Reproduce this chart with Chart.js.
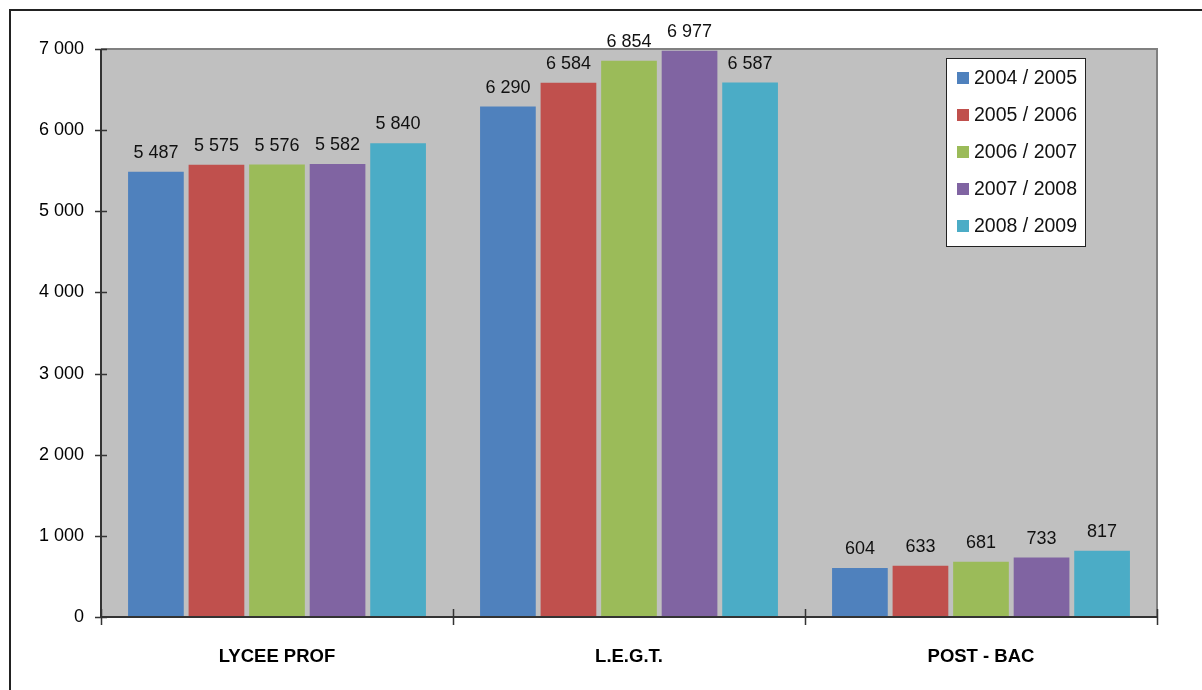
<!DOCTYPE html>
<html>
<head>
<meta charset="utf-8">
<script src="https://cdn.jsdelivr.net/npm/chart.js@4/dist/chart.umd.min.js"></script>
<style>
  html, body { margin: 0; padding: 0; background: #fff; overflow: hidden; }
  #wrap { position: relative; width: 1202px; height: 690px; }
  #frame { position: absolute; left: 9px; top: 9px; width: 1300px; height: 800px;
           border: 2px solid #222; box-sizing: border-box; pointer-events: none; }
</style>
</head>
<body>
<div id="wrap">
  <canvas id="chart" width="1202" height="690"></canvas>
  <div id="frame"></div>
</div>
<script>
// data
var categories = ['LYCEE PROF', 'L.E.G.T.', 'POST - BAC'];
var seriesNames = ['2004 / 2005', '2005 / 2006', '2006 / 2007', '2007 / 2008', '2008 / 2009'];
var y0405 = [5487, 6290, 604];
var y0506 = [5575, 6584, 633];
var y0607 = [5576, 6854, 681];
var y0708 = [5582, 6977, 733];
var y0809 = [5840, 6587, 817];
var yTicks = [0, 1000, 2000, 3000, 4000, 5000, 6000, 7000];

var colors = ['#4F81BD', '#C0504D', '#9BBB59', '#8064A2', '#4BACC6'];
var seriesValues = [y0405, y0506, y0607, y0708, y0809];

function fmt(v) {
  return String(v).replace(/\B(?=(\d{3})+(?!\d))/g, ' ');
}

// ==========================================================================
// plot background, frame, crossing ticks, value labels, legend
// ==========================================================================
var excelPlugin = {
  id: 'excel',
  beforeDatasetsDraw: function(chart) {
    var ctx = chart.ctx, a = chart.chartArea;
    ctx.save();
    ctx.fillStyle = '#C0C0C0';
    ctx.fillRect(a.left, a.top, a.right - a.left, a.bottom - a.top);
    ctx.restore();
  },
  afterDatasetsDraw: function(chart) {
    var ctx = chart.ctx, a = chart.chartArea;
    var ys = chart.scales.y;
    ctx.save();

    // grey frame top / right
    ctx.strokeStyle = '#808080';
    ctx.lineWidth = 2;
    ctx.beginPath();
    ctx.moveTo(a.left, a.top);
    ctx.lineTo(a.right, a.top);
    ctx.lineTo(a.right, a.bottom);
    ctx.stroke();

    // axes
    ctx.strokeStyle = '#333';
    ctx.lineWidth = 2;
    ctx.beginPath();
    ctx.moveTo(a.left, a.top);
    ctx.lineTo(a.left, a.bottom);
    ctx.lineTo(a.right, a.bottom);
    ctx.stroke();

    // y ticks (crossing)
    ctx.lineWidth = 1.5;
    ctx.beginPath();
    yTicks.forEach(function(t) {
      var py = Math.round(ys.getPixelForValue(t)) + 0.5;
      ctx.moveTo(a.left - 6, py);
      ctx.lineTo(a.left + 6, py);
    });
    // x ticks at category boundaries (crossing)
    var n = categories.length;
    for (var i = 0; i <= n; i++) {
      var px = a.left + (a.right - a.left) * i / n;
      px = Math.round(px) + 0.5;
      ctx.moveTo(px, a.bottom - 8);
      ctx.lineTo(px, a.bottom + 8);
    }
    ctx.stroke();

    // value labels
    ctx.fillStyle = '#111';
    ctx.font = '18px "Liberation Sans", Arial, sans-serif';
    ctx.textAlign = 'center';
    ctx.textBaseline = 'alphabetic';
    chart.data.datasets.forEach(function(ds, di) {
      var meta = chart.getDatasetMeta(di);
      meta.data.forEach(function(bar, bi) {
        ctx.fillText(fmt(ds.data[bi]), bar.x, bar.y - 14);
      });
    });

    // legend box
    var lx = 946, ly = 58, lw = 139, lh = 188;
    ctx.fillStyle = '#fff';
    ctx.fillRect(lx, ly, lw, lh);
    ctx.strokeStyle = '#222';
    ctx.lineWidth = 1;
    ctx.strokeRect(lx + 0.5, ly + 0.5, lw, lh);
    ctx.textAlign = 'left';
    ctx.textBaseline = 'middle';
    ctx.font = '19.5px "Liberation Sans", Arial, sans-serif';
    chart.data.datasets.forEach(function(ds, di) {
      var cy = 78 + di * 37;
      ctx.fillStyle = ds.backgroundColor;
      ctx.fillRect(lx + 11, cy - 6, 12, 12);
      ctx.fillStyle = '#111';
      ctx.fillText(ds.label, lx + 28, cy + 1);
    });

    ctx.restore();
  }
};

var datasets = seriesNames.map(function(name, i) {
  return {
    label: name,
    data: seriesValues[i],
    backgroundColor: colors[i],
    borderWidth: 0,
    categoryPercentage: 0.86,
    barPercentage: 0.92
  };
});

new Chart(document.getElementById('chart'), {
  type: 'bar',
  data: { labels: categories, datasets: datasets },
  options: {
    responsive: false,
    animation: false,
    layout: { padding: { left: 0, top: 49, right: 45, bottom: 0 } },
    plugins: {
      legend: { display: false },
      tooltip: { enabled: false }
    },
    scales: {
      x: {
        grid: { display: false, drawTicks: false },
        border: { display: false },
        ticks: {
          padding: 29,
          color: '#000',
          font: { family: '"Liberation Sans", Arial, sans-serif', size: 18.5, weight: 'bold' }
        },
        afterFit: function(scale) { scale.height = 73; }
      },
      y: {
        min: 0,
        max: 7000,
        afterBuildTicks: function(scale) {
          scale.ticks = yTicks.map(function(v) { return { value: v }; });
        },
        grid: { display: false, drawTicks: false },
        border: { display: false },
        ticks: {
          padding: 17,
          color: '#000',
          font: { family: '"Liberation Sans", Arial, sans-serif', size: 18 },
          callback: function(v) { return fmt(v); }
        },
        afterFit: function(scale) { scale.width = 101; }
      }
    }
  },
  plugins: [excelPlugin]
});
</script>
</body>
</html>
